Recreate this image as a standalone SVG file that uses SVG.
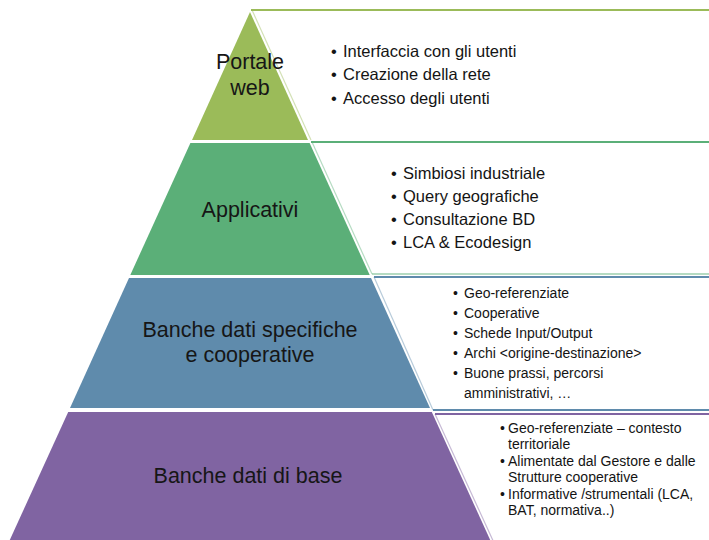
<svg xmlns="http://www.w3.org/2000/svg" width="709" height="540" viewBox="0 0 709 540">
<style>
.lbl{font-family:"Liberation Sans",Arial,sans-serif;font-size:21.5px;fill:#161616;text-anchor:middle}
.t{font-family:"Liberation Sans",Arial,sans-serif;fill:#141414}
.t16{font-size:16.5px}
.t14{font-size:14px}
.edge{fill:none;stroke-width:2.2}
.slant{fill:none;stroke-width:1.2;opacity:0.45}
</style>
<rect width="709" height="540" fill="#ffffff"/>
<g id="connectors">
  <path class="edge" d="M251 10 H712" stroke="#9BBB59"/>
  <path class="slant" d="M252 10 L311 140" stroke="#9BBB59"/>
  <path class="edge" d="M311 142 H712" stroke="#5BAF78"/>
  <path class="edge" d="M372 274 H712" stroke="#5BAF78" opacity="0.45"/>
  <path class="slant" d="M312 142 L372 274" stroke="#5BAF78"/>
  <path class="edge" d="M374 277 H712" stroke="#5F8BAC"/>
  <path class="edge" d="M433 410 H712" stroke="#5F8BAC"/>
  <path class="slant" d="M374 277 L433 410" stroke="#5F8BAC"/>
  <path class="edge" d="M435 414 H712" stroke="#8064A2"/>
  <path class="slant" d="M435 414 L495 545" stroke="#8064A2"/>
</g>
<g id="tier1">
  <polygon points="250,12 308,140 192,140" fill="#9BBB59"/>
  <text class="lbl" x="250" y="69">Portale</text>
  <text class="lbl" x="250" y="95">web</text>
</g>
<g id="tier2">
  <polygon points="190.4,143 309.6,143 369.7,275 130.3,275" fill="#5BAF78"/>
  <text class="lbl" x="250" y="217">Applicativi</text>
</g>
<g id="tier3">
  <polygon points="129,278 371,278 430,408 70,408" fill="#5F8BAC"/>
  <text class="lbl" x="250" y="337">Banche dati specifiche</text>
  <text class="lbl" x="250" y="362">e cooperative</text>
</g>
<g id="tier4">
  <polygon points="68.2,412 431.8,412 492.5,545 7.5,545" fill="#8064A2"/>
  <text class="lbl" x="248" y="483">Banche dati di base</text>
</g>
<g id="list1">
  <text class="t t16" x="331" y="57">•</text><text class="t t16" x="343" y="57">Interfaccia con gli utenti</text>
  <text class="t t16" x="331" y="80">•</text><text class="t t16" x="343" y="80">Creazione della rete</text>
  <text class="t t16" x="331" y="104">•</text><text class="t t16" x="343" y="104">Accesso degli utenti</text>
</g>
<g id="list2">
  <text class="t t16" x="391" y="179">•</text><text class="t t16" x="403" y="179">Simbiosi industriale</text>
  <text class="t t16" x="391" y="202">•</text><text class="t t16" x="403" y="202">Query geografiche</text>
  <text class="t t16" x="391" y="225">•</text><text class="t t16" x="403" y="225">Consultazione BD</text>
  <text class="t t16" x="391" y="248">•</text><text class="t t16" x="403" y="248">LCA &amp; Ecodesign</text>
</g>
<g id="list3">
  <text class="t t14" x="453" y="298">•</text><text class="t t14" x="464" y="298">Geo-referenziate</text>
  <text class="t t14" x="453" y="318">•</text><text class="t t14" x="464" y="318">Cooperative</text>
  <text class="t t14" x="453" y="338">•</text><text class="t t14" x="464" y="338">Schede Input/Output</text>
  <text class="t t14" x="453" y="358">•</text><text class="t t14" x="464" y="358">Archi &lt;origine-destinazione&gt;</text>
  <text class="t t14" x="453" y="378">•</text><text class="t t14" x="464" y="378">Buone prassi, percorsi</text>
  <text class="t t14" x="464" y="398">amministrativi, …</text>
</g>
<g id="list4">
  <text class="t t14" x="500" y="433">•</text><text class="t t14" x="508" y="433">Geo-referenziate – contesto</text>
  <text class="t t14" x="508" y="449">territoriale</text>
  <text class="t t14" x="500" y="466">•</text><text class="t t14" x="508" y="466">Alimentate dal Gestore e dalle</text>
  <text class="t t14" x="508" y="482">Strutture cooperative</text>
  <text class="t t14" x="500" y="499">•</text><text class="t t14" x="508" y="499">Informative /strumentali (LCA,</text>
  <text class="t t14" x="508" y="515">BAT, normativa..)</text>
</g>
</svg>
